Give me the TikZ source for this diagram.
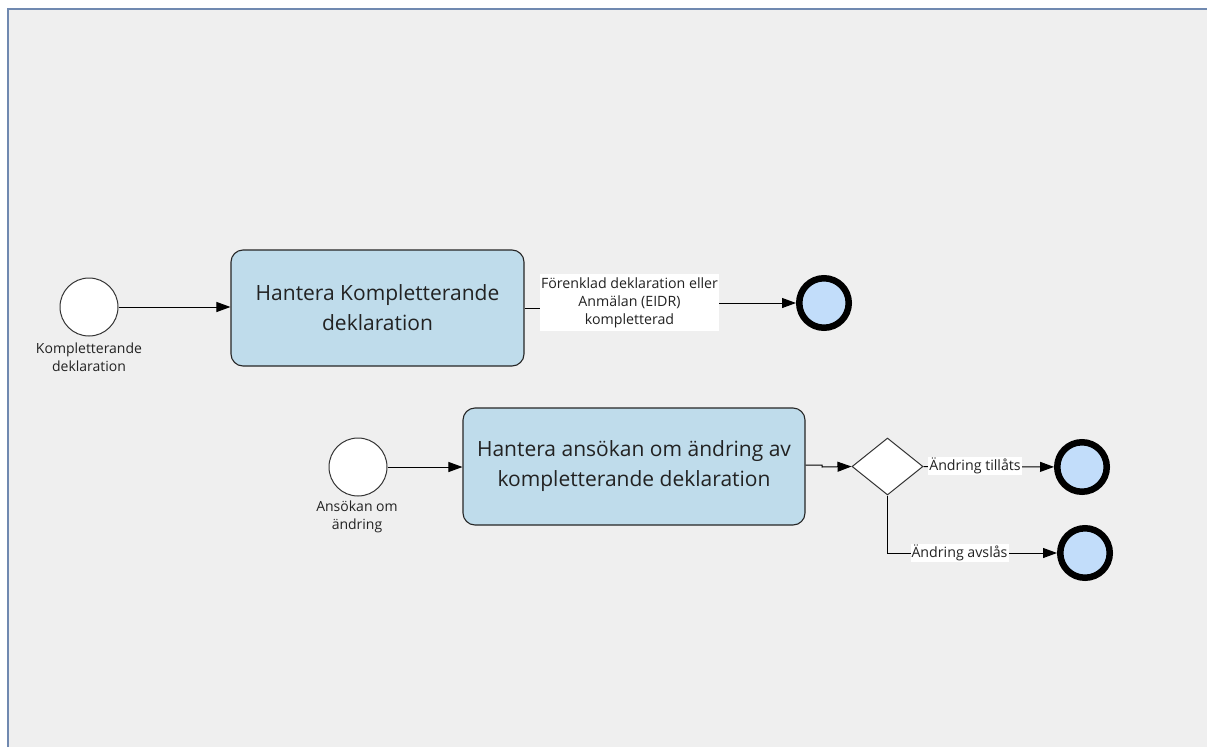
\documentclass[tikz,border=0pt]{standalone}
\usepackage{fontspec}
\setmainfont{Open Sans}
\usetikzlibrary{shapes.geometric,arrows.meta}
\definecolor{bg}{HTML}{EFEFEF}
\definecolor{frameblue}{HTML}{7089B0}
\definecolor{taskfill}{HTML}{BFDCEB}
\definecolor{endfill}{HTML}{C2DDFA}
\definecolor{txt}{HTML}{222222}
\tikzset{
  startev/.style={circle, draw=black!80, line width=1pt, fill=white, minimum size=58pt, inner sep=0pt},
  endev/.style={circle, draw=black, line width=6.5pt, fill=endfill, minimum size=49.5pt, inner sep=0pt},
  taskbox/.style={rectangle, rounded corners=12pt, draw=black!85, line width=1.1pt, fill=taskfill, align=center, inner sep=0pt, text=txt, font=\fontsize{21}{30}\selectfont},
  gate/.style={diamond, draw=black!80, line width=1pt, fill=white, minimum width=71pt, minimum height=57pt, inner sep=0pt},
  flow/.style={line width=1pt, -{Triangle[length=14pt,width=10pt]}},
  lbl/.style={font=\fontsize{14}{18}\selectfont, align=center, text=txt},
  flowlbl/.style={fill=white, font=\fontsize{14.2}{18}\selectfont, align=center, inner sep=1pt, text=txt},
}
\begin{document}
\begin{tikzpicture}[x=1pt,y=-1pt]
\useasboundingbox (0,0) rectangle (1207,747);
\fill[bg] (7.5,8.5) rectangle (1207,747);
\draw[frameblue, line width=2pt] (7.5,747) -- (7.5,8.5) -- (1207,8.5);

% top process
\node[startev] (s1) at (89,307) {};
\node[lbl, anchor=north] (s1l) at (89,339) {Kompletterande\\deklaration};
\node[taskbox, minimum width=293pt, minimum height=116pt] (t1) at (377.5,308) {Hantera Kompletterande\\deklaration};
\node[endev] (e1) at (824,303) {};
\draw[flow] (s1) -- (t1.west |- s1);
\coordinate (j1) at (630,308);
\coordinate (j1b) at (630,303);
\draw[flow] (t1.east |- j1) -- (j1) -- (j1b) -- (e1);
\node[flowlbl, minimum width=177pt, minimum height=57pt] (l1) at (629.5,302.5) {Förenklad deklaration eller\\Anmälan (EIDR)\\kompletterad};

% bottom process
\node[startev] (s2) at (358,467) {};
\node[lbl, anchor=north] (s2l) at (357,497) {Ansökan om\\ändring};
\node[taskbox, minimum width=342pt, minimum height=117pt] (t2) at (634,466.5) {Hantera ansökan om ändring av\\kompletterande deklaration};
\node[gate] (g) at (887.5,466.5) {};
\node[endev] (e2) at (1082,467) {};
\node[endev] (e3) at (1085,553) {};
\draw[flow] (s2) -- (t2.west |- s2);
\coordinate (j2) at (822,465);
\draw[flow] (t2.east |- j2) -- (j2) -- (822,467) -- (g.west);
\draw[flow] (g.east) -- (e2);
\node[flowlbl] (l2) at (975,466) {Ändring tillåts};
\draw[flow] (g.south) |- (e3);
\node[flowlbl] (l3) at (959.5,553) {Ändring avslås};
\end{tikzpicture}
\end{document}
